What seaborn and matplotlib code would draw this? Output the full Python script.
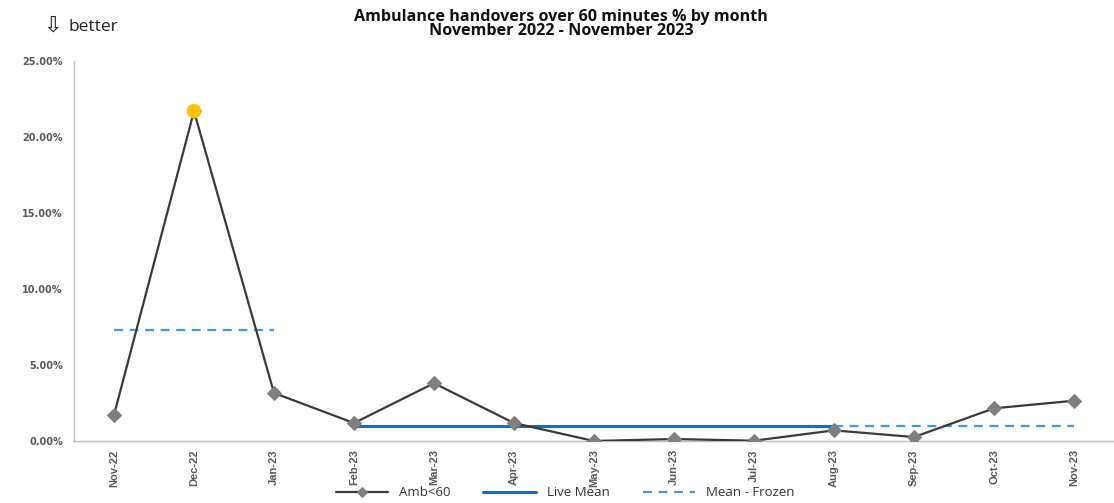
import matplotlib
matplotlib.use("Agg")
import matplotlib.pyplot as plt
import seaborn as sns
import numpy as np
import pandas as pd

months = ["Nov-22", "Dec-22", "Jan-23", "Feb-23", "Mar-23", "Apr-23", "May-23",
          "Jun-23", "Jul-23", "Aug-23", "Sep-23", "Oct-23", "Nov-23"]
amb_pct = [1.71, 21.7, 3.16, 1.18, 3.80, 1.18, 0.00, 0.13, 0.02, 0.70, 0.26, 2.15, 2.65]

# mean segments: (start month, end month, value)
frozen_first = ("Nov-22", "Jan-23", 7.30)
live_mean = ("Feb-23", "Aug-23", 0.99)
frozen_last = ("Aug-23", "Nov-23", 0.99)
highlight_months = ["Dec-22"]

sns.set_theme(style="white")
plt.rcParams["font.family"] = ["Open Sans", "DejaVu Sans"]

df = pd.DataFrame({"month": months, "pct": amb_pct})
df["pos"] = np.arange(len(months))
idx = {m: i for i, m in enumerate(months)}

fig = plt.figure(figsize=(11.14, 5.03), dpi=100)
ax = fig.add_axes([74 / 1114, 1 - 441 / 503, 1 - 74 / 1114, (441 - 61) / 503])

line_col = "#3a3a3a"
marker_col = "#7f7f7f"
live_col = "#0a72c8"
frozen_col = "#3d9be0"

sns.lineplot(data=df, x="pos", y="pct", ax=ax, color=line_col, linewidth=1.6,
             marker="D", markersize=7, markerfacecolor=marker_col,
             markeredgecolor=marker_col, label="Amb<60", zorder=3)

seg = pd.DataFrame({"pos": [idx[frozen_first[0]], idx[frozen_first[1]]],
                    "pct": [frozen_first[2]] * 2})
sns.lineplot(data=seg, x="pos", y="pct", ax=ax, color=frozen_col,
             linewidth=1.6, linestyle=(0, (4, 3)), zorder=2)

seg = pd.DataFrame({"pos": [idx[live_mean[0]], idx[live_mean[1]]],
                    "pct": [live_mean[2]] * 2})
sns.lineplot(data=seg, x="pos", y="pct", ax=ax, color=live_col, linewidth=2.2,
             label="Live Mean", zorder=2)

seg = pd.DataFrame({"pos": [idx[frozen_last[0]], idx[frozen_last[1]]],
                    "pct": [frozen_last[2]] * 2})
sns.lineplot(data=seg, x="pos", y="pct", ax=ax, color=frozen_col, linewidth=1.6,
             linestyle=(0, (4, 3)), label="Mean - Frozen", zorder=2)

hl = df[df["month"].isin(highlight_months)]
sns.scatterplot(data=hl, x="pos", y="pct", ax=ax, color="#ffc000", s=110,
                edgecolor="none", zorder=4, legend=False)

ax.set_xlim(-0.5, len(months) - 0.5)
ax.set_ylim(0, 25)
ax.set_yticks(np.arange(0, 25.1, 5))
ax.set_yticklabels([f"{v:.2f}%" for v in np.arange(0, 25.1, 5)],
                   fontsize=7, fontweight="bold", color="#595959",
                   family=["DejaVu Sans"])
ax.set_xticks(np.arange(len(months)))
ax.set_xticklabels(months, rotation=90, fontsize=8, fontweight="bold",
                   color="#595959", family=["Liberation Sans"])
ax.set_xticks(np.arange(-0.5, len(months), 1), minor=True)
ax.tick_params(axis="x", which="major", length=0, pad=6)
ax.tick_params(axis="x", which="minor", length=4, color="#bfbfbf", width=1)
ax.tick_params(axis="y", which="major", length=4, color="#bfbfbf", width=1, pad=4)
ax.set_xlabel("")
ax.set_ylabel("")

for side in ["top", "right"]:
    ax.spines[side].set_visible(False)
for side in ["left", "bottom"]:
    ax.spines[side].set_color("#bfbfbf")
    ax.spines[side].set_linewidth(1)

leg = ax.legend(loc="center", bbox_to_anchor=(565 / 1114, 10 / 503),
                bbox_transform=fig.transFigure, ncol=3, frameon=False,
                fontsize=9.5, handlelength=4, columnspacing=2.5)
leg.legend_handles[0].set_markersize(5)
for t in leg.get_texts():
    t.set_color("#333333")

fig.text(561 / 1114, 1 - 24 / 503,
         "Ambulance handovers over 60 minutes % by month\nNovember 2022 - November 2023",
         ha="center", va="center", fontsize=11.6, fontweight="bold", color="#111111",
         linespacing=0.88, multialignment="center")
fig.text(43 / 1114, 1 - 26 / 503, "\u21e9", ha="left", va="center", fontsize=16,
         color="#222222", family=["DejaVu Sans"])
fig.text(68 / 1114, 1 - 27 / 503, "better", ha="left", va="center", fontsize=12.5,
         color="#222222")

fig.savefig("out.png", dpi=100)
